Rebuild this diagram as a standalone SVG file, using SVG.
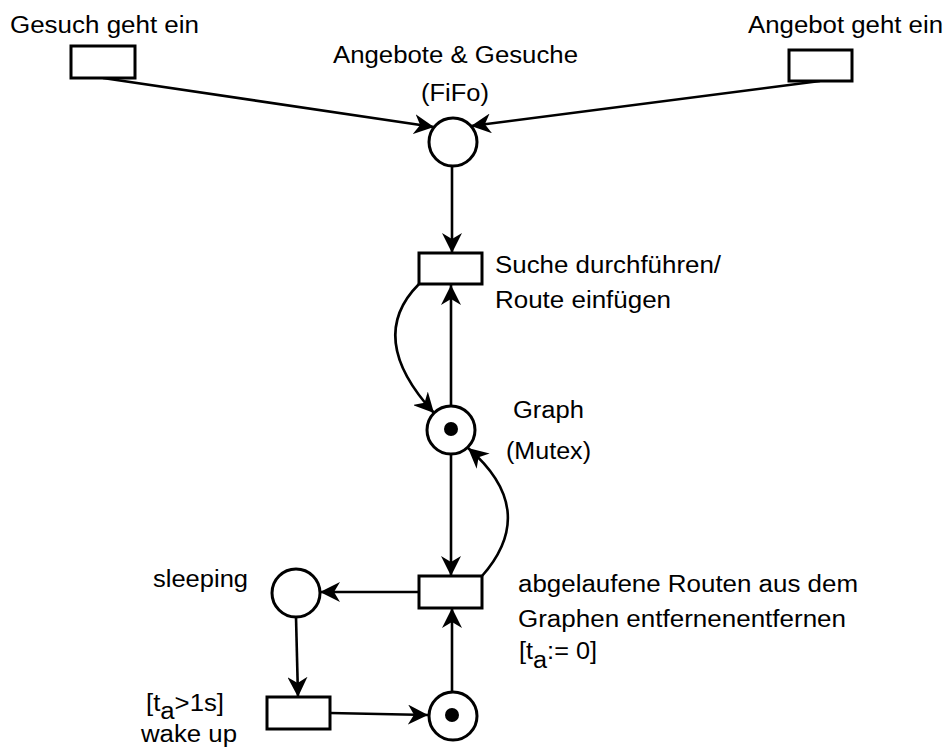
<svg xmlns="http://www.w3.org/2000/svg" width="948" height="747" viewBox="0 0 948 747">
  <style>
    .place { fill: #ffffff; stroke: #000000; stroke-width: 3; }
    .trans { fill: #ffffff; stroke: #000000; stroke-width: 3; }
    .token { fill: #000000; stroke: none; }
    .arc { fill: none; stroke: #000000; stroke-width: 2.6; marker-end: url(#head); }
    .lbl { font-family: "Liberation Sans", Arial, sans-serif; font-size: 23.5px; fill: #000000; }
  </style>
  <defs>
    <marker id="head" markerUnits="userSpaceOnUse" markerWidth="20" markerHeight="20" viewBox="0 0 20 20" refX="20" refY="10" orient="auto">
      <path d="M0,0 L20,10 L0,20 L6,10 Z" fill="#000000"/>
    </marker>
  </defs>
  <rect width="948" height="747" fill="#ffffff"/>

  <!-- connectors -->
  <g id="connectors">
    <path class="arc" d="M103,78 L434,127"/>
    <path class="arc" d="M820,81 L471,126"/>
    <path class="arc" d="M452,166 L452,253"/>
    <path class="arc" d="M419,284 Q365,338 434,413"/>
    <path class="arc" d="M451,406 L451,285"/>
    <path class="arc" d="M451,454 L451,576"/>
    <path class="arc" d="M482,576 Q540,510 468,448"/>
    <path class="arc" d="M419,592 L320,592"/>
    <path class="arc" d="M296,617 L298,697"/>
    <path class="arc" d="M330,713 L428,715"/>
    <path class="arc" d="M452,692 L452,608"/>
  </g>

  <!-- transitions: incoming requests / offers -->
  <g id="t-gesuch">
    <rect class="trans" x="71" y="46" width="64" height="32"/>
    <text class="lbl" x="10" y="33" textLength="189" lengthAdjust="spacingAndGlyphs">Gesuch geht ein</text>
  </g>
  <g id="t-angebot">
    <rect class="trans" x="789" y="50" width="63" height="31"/>
    <text class="lbl" x="748" y="33" textLength="195" lengthAdjust="spacingAndGlyphs">Angebot geht ein</text>
  </g>

  <!-- queue place -->
  <g id="p-queue">
    <circle class="place" cx="453" cy="142" r="24"/>
    <text class="lbl" x="333" y="63" textLength="245" lengthAdjust="spacingAndGlyphs">Angebote &amp; Gesuche</text>
    <text class="lbl" x="421" y="101" textLength="68" lengthAdjust="spacingAndGlyphs">(FiFo)</text>
  </g>

  <!-- search / insert transition -->
  <g id="t-suche">
    <rect class="trans" x="419" y="253" width="63" height="31"/>
    <text class="lbl" x="495" y="273" textLength="226" lengthAdjust="spacingAndGlyphs">Suche durchführen/</text>
    <text class="lbl" x="495" y="308" textLength="176" lengthAdjust="spacingAndGlyphs">Route einfügen</text>
  </g>

  <!-- graph mutex place -->
  <g id="p-graph">
    <circle class="place" cx="451" cy="430" r="24"/>
    <circle class="token" cx="451" cy="429" r="7"/>
    <text class="lbl" x="513" y="418" textLength="71" lengthAdjust="spacingAndGlyphs">Graph</text>
    <text class="lbl" x="506" y="459" textLength="85" lengthAdjust="spacingAndGlyphs">(Mutex)</text>
  </g>

  <!-- expired routes transition -->
  <g id="t-abgelaufen">
    <rect class="trans" x="419" y="576" width="63" height="32"/>
    <text class="lbl" x="518" y="592" textLength="340" lengthAdjust="spacingAndGlyphs">abgelaufene Routen aus dem</text>
    <text class="lbl" x="518" y="627" textLength="328" lengthAdjust="spacingAndGlyphs">Graphen entfernenentfernen</text>
    <text class="lbl" x="519" y="659" textLength="78" lengthAdjust="spacingAndGlyphs">[t<tspan dy="9">a</tspan><tspan dy="-9">:= 0]</tspan></text>
  </g>

  <!-- sleeping place -->
  <g id="p-sleeping">
    <circle class="place" cx="296" cy="593" r="24"/>
    <text class="lbl" x="153" y="587" textLength="95" lengthAdjust="spacingAndGlyphs">sleeping</text>
  </g>

  <!-- wake up transition -->
  <g id="t-wakeup">
    <rect class="trans" x="267" y="697" width="63" height="32"/>
    <text class="lbl" x="146" y="711" textLength="78" lengthAdjust="spacingAndGlyphs">[t<tspan dy="8">a</tspan><tspan dy="-8">&gt;1s]</tspan></text>
    <text class="lbl" x="141" y="742" textLength="96" lengthAdjust="spacingAndGlyphs">wake up</text>
  </g>

  <!-- timer place -->
  <g id="p-timer">
    <circle class="place" cx="453" cy="716" r="24"/>
    <circle class="token" cx="452" cy="715" r="7"/>
  </g>
</svg>
